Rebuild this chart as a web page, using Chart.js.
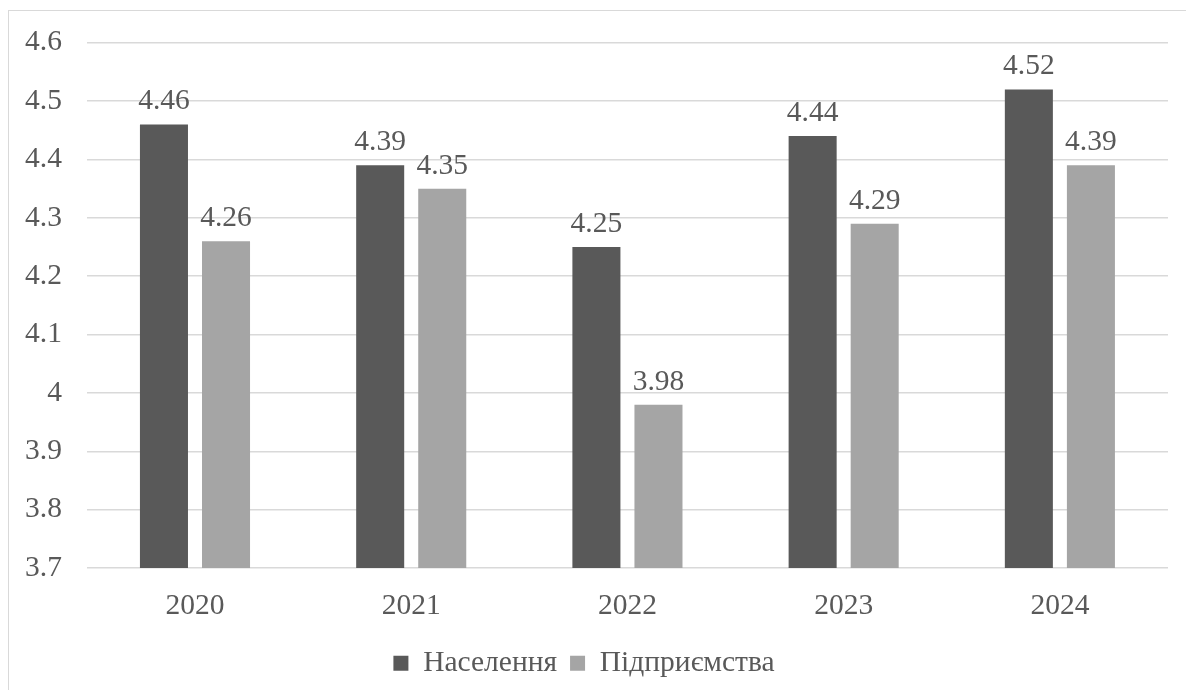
<!DOCTYPE html>
<html>
<head>
<meta charset="utf-8">
<script src="https://cdn.jsdelivr.net/npm/chart.js@4.4.1/dist/chart.umd.min.js"></script>
<style>
    html, body { margin: 0; padding: 0; background: #fff; overflow: hidden; }
    #frame { position: absolute; left: 8px; top: 10px; width: 1200px; height: 700px; border: 1px solid #D9D9D9; box-sizing: border-box; }
    #wrap { position: absolute; left: 0; top: 0; width: 1186px; height: 690px; }
</style>
</head>
<body>
<div id="frame"></div>
<div id="wrap"><canvas id="chart"></canvas></div>
<script>
// Дані
const years = ['2020', '2021', '2022', '2023', '2024'];
const population = [4.46, 4.39, 4.25, 4.44, 4.52];
const enterprises = [4.26, 4.35, 3.98, 4.29, 4.39];
const seriesNames = ['Населення', 'Підприємства'];

const textColor = '#595959';
const fontFamily = "'Liberation Serif', 'Times New Roman', serif";
const fontSize = 29.5;

// Підписи значень над стовпчиками
const valueLabels = {
    id: 'valueLabels',
    afterDatasetsDraw(chart) {
        const ctx = chart.ctx;
        ctx.save();
        ctx.font = fontSize + 'px ' + fontFamily;
        ctx.fillStyle = textColor;
        ctx.textAlign = 'center';
        ctx.textBaseline = 'alphabetic';
        chart.data.datasets.forEach((ds, i) => {
            chart.getDatasetMeta(i).data.forEach((bar, j) => {
                ctx.fillText(ds.data[j].toFixed(2), bar.x, bar.y - 15);
            });
        });
        ctx.restore();
    }
};

Chart.defaults.font.family = fontFamily;

new Chart(document.getElementById('chart'), {
    type: 'bar',
    data: {
        labels: years,
        datasets: [
            { label: seriesNames[0], data: population, backgroundColor: '#595959' },
            { label: seriesNames[1], data: enterprises, backgroundColor: '#A5A5A5' }
        ]
    },
    options: {
        responsive: true,
        maintainAspectRatio: false,
        animation: false,
        categoryPercentage: 0.574,
        barPercentage: 0.774,
        layout: { padding: { left: 0, right: 18, top: 28, bottom: 2 } },
        plugins: {
            legend: {
                position: 'bottom',
                labels: {
                    color: textColor,
                    font: { family: fontFamily, size: fontSize },
                    boxWidth: 15,
                    boxHeight: 15,
                    padding: 13
                }
            },
            tooltip: { enabled: false }
        },
        scales: {
            x: {
                grid: { display: false },
                border: { display: false },
                ticks: { color: textColor, font: { family: fontFamily, size: fontSize }, padding: 12 }
            },
            y: {
                min: 3.7,
                max: 4.6,
                grid: { color: '#D9D9D9', lineWidth: 1.5, drawTicks: false },
                border: { display: false },
                ticks: {
                    stepSize: 0.1,
                    color: textColor,
                    font: { family: fontFamily, size: fontSize },
                    padding: 25,
                    callback: v => String(Math.round(v * 10) / 10)
                }
            }
        }
    },
    plugins: [valueLabels]
});
</script>
</body>
</html>
